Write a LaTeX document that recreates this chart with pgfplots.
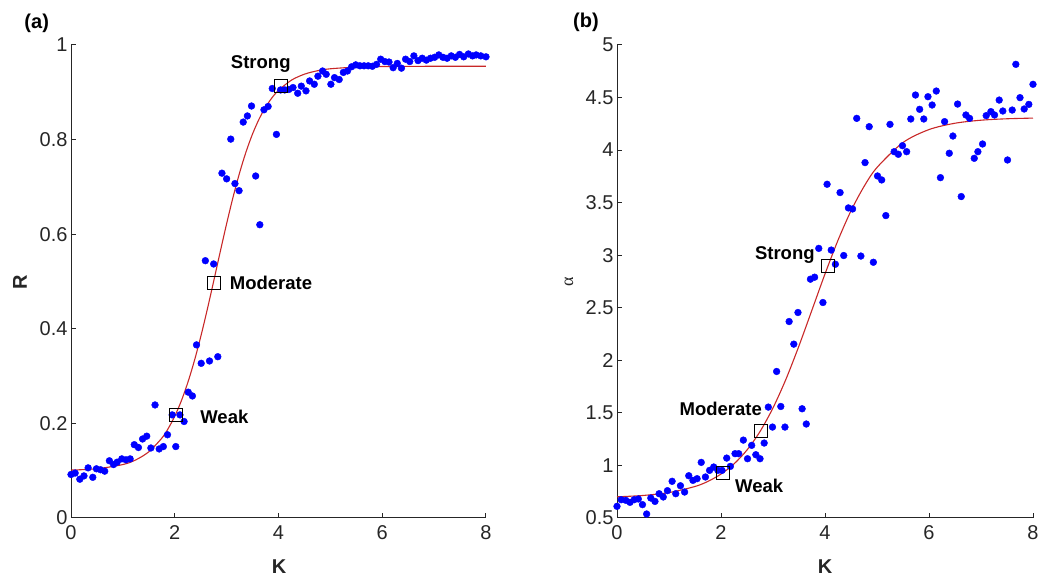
\documentclass[border=0pt]{standalone}
\usepackage{pgfplots}
\pgfplotsset{compat=1.18}
\usepackage{fontspec}
\setmainfont{Liberation Sans}
\newfontfamily\serifal{Liberation Serif}
\definecolor{axgray}{RGB}{38,38,38}
\definecolor{dotblue}{RGB}{0,0,255}
\definecolor{fitred}{RGB}{200,40,40}
\pgfplotsset{
 myax/.style={scale only axis, width=415pt, height=473pt,
  axis x line*=bottom, axis y line*=left, tick align=inside,
  major tick length=5pt,
  axis line style={axgray, line width=1pt},
  every tick/.style={axgray, line width=1pt},
  tick label style={font=\fontsize{20}{24}\selectfont, text=axgray},
  xticklabel style={yshift=-4pt},
  /pgf/number format/assume math mode=true,
  xmin=0, xmax=8, xtick={0,2,4,6,8}, clip=false,
  anchor=south west},
 dots/.style={only marks, mark=*, mark size=3.4pt, mark options={fill=dotblue, draw=dotblue}},
 fit/.style={no marks, fitred, line width=1.1pt, smooth},
 sq/.style={only marks, mark=square, mark size=6.5pt, mark options={draw=black, line width=0.8pt, fill=none}}
}
\tikzset{lab/.style={font=\bfseries\fontsize{18.5}{22}\selectfont, text=black, anchor=west, inner sep=0pt}}
\begin{document}
\begin{tikzpicture}
\path[use as bounding box] (0,0) rectangle (1039pt,577pt);
% ---------------- (a)
\begin{axis}[myax, at={(71pt,59pt)}, ymin=0, ymax=1, ytick={0,0.2,0.4,0.6,0.8,1}]
\addplot[fit] coordinates {
(0,0.1013)(0.5,0.1041)(1.0,0.1130)(1.25,0.1229)(1.5,0.1400)(1.75,0.1687)(1.875,0.1893)(2.0,0.2152)
(2.125,0.2471)(2.25,0.2857)(2.375,0.3311)(2.5,0.3828)(2.625,0.4399)(2.75,0.5004)(2.875,0.5620)
(3.0,0.6222)(3.125,0.6787)(3.25,0.7297)(3.375,0.7743)(3.5,0.8120)(3.625,0.8432)(3.75,0.8684)
(3.875,0.8885)(4.0,0.9041)(4.25,0.9257)(4.5,0.9383)(4.75,0.9455)(5.0,0.9497)(5.5,0.9533)
(6.0,0.9545)(7.0,0.9550)(8.0,0.9550)};
\addplot[dots] coordinates {
(0.00,0.092)(0.08,0.095)(0.17,0.082)(0.25,0.089)(0.33,0.106)(0.42,0.086)(0.49,0.104)(0.57,0.102)
(0.65,0.099)(0.74,0.121)(0.82,0.113)(0.89,0.118)(0.98,0.125)(1.06,0.123)(1.14,0.125)(1.22,0.155)
(1.30,0.149)(1.38,0.167)(1.46,0.173)(1.54,0.148)(1.62,0.239)(1.70,0.146)(1.78,0.151)(1.86,0.176)
(1.95,0.218)(2.02,0.151)(2.10,0.218)(2.18,0.204)(2.26,0.266)(2.34,0.258)(2.42,0.366)(2.51,0.327)
(2.59,0.544)(2.67,0.332)(2.75,0.537)(2.83,0.341)(2.91,0.729)(3.00,0.717)(3.08,0.801)(3.16,0.707)
(3.24,0.692)(3.32,0.837)(3.40,0.850)(3.48,0.871)(3.56,0.723)(3.64,0.620)(3.72,0.863)(3.80,0.870)
(3.88,0.908)(3.96,0.811)(4.04,0.905)(4.12,0.905)(4.20,0.906)(4.28,0.910)(4.37,0.898)(4.44,0.913)
(4.53,0.903)(4.60,0.924)(4.69,0.917)(4.76,0.934)(4.85,0.945)(4.92,0.938)(5.01,0.917)(5.08,0.931)
(5.17,0.927)(5.25,0.942)(5.33,0.945)(5.41,0.954)(5.49,0.958)(5.57,0.956)(5.65,0.956)(5.73,0.956)
(5.81,0.955)(5.89,0.959)(5.97,0.970)(6.05,0.965)(6.13,0.964)(6.21,0.952)(6.29,0.961)(6.37,0.951)
(6.45,0.970)(6.53,0.965)(6.61,0.977)(6.69,0.967)(6.77,0.972)(6.85,0.968)(6.93,0.972)(7.01,0.974)
(7.09,0.979)(7.17,0.974)(7.25,0.972)(7.33,0.977)(7.41,0.974)(7.49,0.980)(7.57,0.975)(7.66,0.981)
(7.74,0.977)(7.81,0.979)(7.90,0.977)(8.00,0.975)};
\addplot[sq] coordinates {(2.03,0.218)(2.75,0.498)(4.04,0.913)};
\node[lab] at (axis cs:2.49,0.213) {Weak};
\node[lab] at (axis cs:3.06,0.497) {Moderate};
\node[lab] at (axis cs:3.08,0.960) {Strong};
\end{axis}
% ---------------- (b)
\begin{axis}[myax, at={(617pt,59pt)}, width=416pt, ymin=0.5, ymax=5, ytick={0.5,1,1.5,2,2.5,3,3.5,4,4.5,5}]
\addplot[fit] coordinates {
(0,0.7014)(0.5,0.7143)(1.0,0.7419)(1.5,0.7998)(1.75,0.8486)(2.0,0.9180)(2.25,1.0145)(2.5,1.1469)
(2.75,1.3224)(3.0,1.5475)(3.25,1.8216)(3.5,2.1384)(3.75,2.4795)(4.0,2.8219)(4.25,3.1423)(4.5,3.4225)
(4.75,3.6533)(5.0,3.8347)(5.5,4.0722)(6.0,4.1953)(6.5,4.2557)(7.0,4.2845)(7.5,4.2981)(8.0,4.3045)};
\addplot[dots] coordinates {
(0.00,0.611)(0.08,0.674)(0.17,0.668)(0.25,0.649)(0.33,0.674)(0.41,0.681)(0.49,0.627)(0.57,0.538)
(0.65,0.690)(0.73,0.658)(0.81,0.731)(0.89,0.700)(0.97,0.760)(1.06,0.849)(1.13,0.731)(1.22,0.807)
(1.30,0.747)(1.38,0.902)(1.46,0.858)(1.54,0.874)(1.62,1.029)(1.70,0.890)(1.78,0.953)(1.86,0.985)
(1.94,0.953)(2.02,0.953)(2.11,1.070)(2.18,0.991)(2.27,1.112)(2.34,1.112)(2.43,1.241)(2.51,1.064)
(2.59,1.191)(2.67,1.102)(2.75,1.064)(2.83,1.213)(2.91,1.555)(2.99,1.365)(3.07,1.894)(3.15,1.561)
(3.23,1.365)(3.31,2.369)(3.40,2.154)(3.48,2.455)(3.56,1.539)(3.64,1.394)(3.72,2.772)(3.80,2.791)
(3.88,3.065)(3.96,2.550)(4.04,3.675)(4.12,3.049)(4.20,2.914)(4.29,3.596)(4.36,2.997)(4.45,3.450)
(4.53,3.440)(4.61,4.302)(4.69,2.992)(4.77,3.881)(4.85,4.223)(4.93,2.933)(5.01,3.754)(5.09,3.716)
(5.17,3.377)(5.25,4.245)(5.33,3.985)(5.41,3.960)(5.49,4.042)(5.57,3.985)(5.65,4.296)(5.74,4.524)
(5.82,4.388)(5.90,4.296)(5.98,4.508)(6.06,4.429)(6.14,4.562)(6.22,3.738)(6.30,4.271)(6.39,3.970)
(6.46,4.134)(6.55,4.438)(6.62,3.558)(6.71,4.334)(6.78,4.302)(6.87,3.922)(6.94,3.985)(7.03,4.058)
(7.10,4.328)(7.19,4.366)(7.26,4.334)(7.35,4.476)(7.42,4.372)(7.51,3.906)(7.60,4.381)(7.67,4.816)
(7.75,4.499)(7.83,4.391)(7.92,4.435)(8.00,4.626)};
\addplot[sq] coordinates {(2.03,0.928)(2.76,1.326)(4.05,2.898)};
\node[lab] at (axis cs:2.27,0.81) {Weak};
\node[lab] at (axis cs:1.20,1.536) {Moderate};
\node[lab] at (axis cs:2.65,3.00) {Strong};
\end{axis}
% ---------------- labels
\node[font=\bfseries\fontsize{20}{24}\selectfont] at (36.7pt,554pt) {(a)};
\node[font=\bfseries\fontsize{20}{24}\selectfont] at (586pt,554.3pt) {(b)};
\node[font=\bfseries\fontsize{20}{24}\selectfont, text=axgray] at (279pt,10.3pt) {K};
\node[font=\bfseries\fontsize{20}{24}\selectfont, text=axgray] at (825pt,10.3pt) {K};
\node[font=\bfseries\fontsize{20}{24}\selectfont, text=axgray, rotate=90] at (20pt,295pt) {R};
\node[font=\serifal\fontsize{18}{22}\selectfont, text=axgray, rotate=90] at (569pt,295pt) {α};
\end{tikzpicture}
\end{document}
